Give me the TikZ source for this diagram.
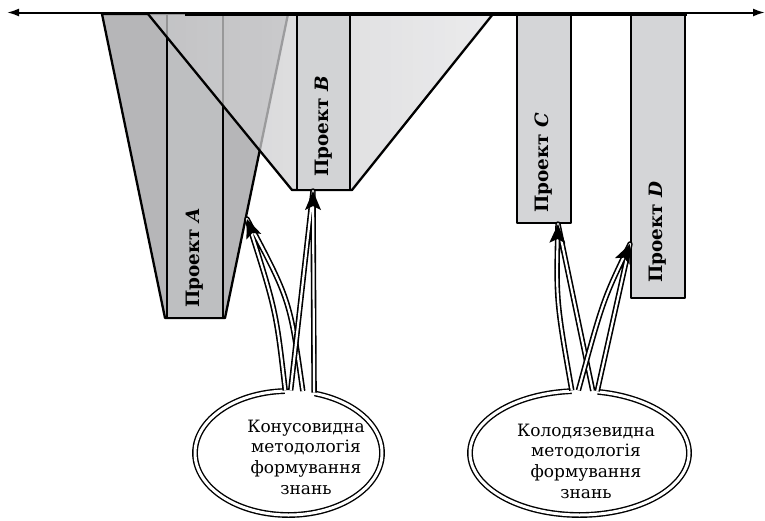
\documentclass[tikz,border=0pt]{standalone}
\usepackage{fontspec}
\setmainfont{DejaVu Serif}
\usetikzlibrary{shapes.geometric,arrows.meta,calc}
\definecolor{coneA}{RGB}{182,182,184}
\definecolor{projA}{RGB}{190,191,193}
\definecolor{coneBl}{RGB}{196,196,198}
\definecolor{coneBr}{RGB}{228,228,230}
\definecolor{projB}{RGB}{210,211,213}
\definecolor{projCD}{RGB}{212,213,215}

\begin{document}
\begin{tikzpicture}[x=0.5pt,y=-0.5pt,
    edge/.style={line width=1.15pt, line join=round},
    projlabel/.style={rotate=90, anchor=west, inner sep=0pt, font=\fontsize{9.2}{11}\selectfont\bfseries},
    bubble/.style={ellipse, draw, double, double distance=1.5pt, line width=0.7pt, fill=white, inner sep=0pt},
    bubbletext/.style={align=center, inner sep=0pt, font=\fontsize{8.5}{10.35}\selectfont},
    tail/.style={draw, double, double distance=1.1pt, line width=0.8pt, line join=round},
    tailtip/.style={fill=black, line join=round}]

    \useasboundingbox (0,0) rectangle (765,520);

    % Cone A with project A
    \draw[edge, fill=coneA] (102,14) -- (288,14) -- (225,318) -- (165,318) -- cycle;
    \draw[edge, fill=projA] (167,14) rectangle (223,318);
    \node[projlabel] (labA) at (195,308) {Проект \textit{A}};

    % Cone B lies over cone A
    \shade[left color=coneBl, right color=coneBr, fill opacity=0.75] (148,14) -- (493,14) -- (352,190) -- (292,190) -- cycle;
    \draw[edge] (148,14) -- (292,190) -- (352,190) -- (493,14);
    \draw[edge, fill=projB] (297,14) rectangle (350,190);
    \node[projlabel] (labB) at (323.5,177) {Проект \textit{B}};

    % Wells C and D
    \draw[edge, fill=projCD] (517,14) rectangle (571,223);
    \node[projlabel] (labC) at (544,213) {Проект \textit{C}};
    \draw[edge, fill=projCD] (631,14) rectangle (685,298);
    \node[projlabel] (labD) at (658,283) {Проект \textit{D}};

    % Time axis
    \coordinate (tL) at (7,12.5);
    \coordinate (tR) at (765,12.5);
    \draw[line width=1pt, {Latex[length=6pt,width=4pt]}-{Latex[length=6pt,width=4pt]}] (tL) -- (tR);
    \draw[line width=1.6pt] (185,14) -- (687,14);

    % Callouts
    \node[bubble, minimum width=93.5pt, minimum height=62pt] (kon) at (288.5,453) {};
    \node[bubbletext] (konT) at (306,457) {Конусовидна\\методологія\\формування\\знань};
    \node[bubble, minimum width=109.5pt, minimum height=62pt] (kol) at (579.5,453) {};
    \node[bubbletext] (kolT) at (586,461) {Колодязевидна\\методологія\\формування\\знань};

    % Arrows
    \coordinate (tipA) at (247,219);
    \coordinate (tipB) at (313,191);
    \coordinate (tipC) at (558,224);
    \coordinate (tipD) at (630,244);

    \fill[white] (kon.93) .. controls (276,310) .. (tipA) .. controls (290,300) .. (kon.77) -- ++(0,6) -- ($(kon.93)+(0,6)$) -- cycle;
    \fill[white] (kon.88) -- (tipB) -- (kon.67) -- ++(0,6) -- ($(kon.88)+(0,6)$) -- cycle;
    \fill[white] (kol.97) .. controls (556,300) .. (tipC) -- (kol.78) -- ++(0,6) -- ($(kol.97)+(0,6)$) -- cycle;
    \fill[white] (kol.91) .. controls (603,300) .. (tipD) -- (kol.74) -- ++(0,6) -- ($(kol.91)+(0,6)$) -- cycle;

    \draw[tail] (kon.93) .. controls (276,310) .. (tipA) .. controls (290,300) .. (kon.77);
    \draw[tail] (kon.88) -- (tipB) -- (kon.67);
    \draw[tail] (kol.97) .. controls (556,300) .. (tipC) -- (kol.78);
    \draw[tail] (kol.91) .. controls (603,300) .. (tipD) -- (kol.74);

    % Arrow heads
    \fill[tailtip, rotate around={21:(tipA)}] (tipA) -- ++(-8,19) -- ++(8,-4) -- ++(8,4) -- cycle;
    \fill[tailtip] (tipB) -- ++(-8,19) -- ++(8,-4) -- ++(8,4) -- cycle;
    \fill[tailtip, rotate around={-2:(tipC)}] (tipC) -- ++(-8,19) -- ++(8,-4) -- ++(8,4) -- cycle;
    \fill[tailtip, rotate around={-24:(tipD)}] (tipD) -- ++(-8,19) -- ++(8,-4) -- ++(8,4) -- cycle;
\end{tikzpicture}
\end{document}
